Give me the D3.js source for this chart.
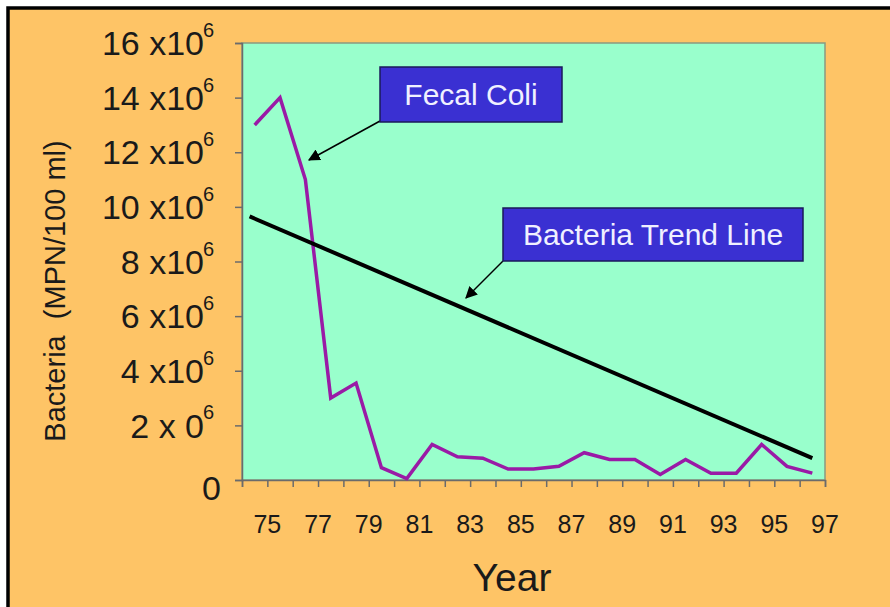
<!DOCTYPE html>
<html>
<head>
<meta charset="utf-8">
<script src="https://cdn.jsdelivr.net/npm/d3@7"></script>
<style>
  body { margin: 0; background: #fff; }
  svg { display: block; font-family: "Liberation Sans", Arial, sans-serif; }
</style>
</head>
<body>
<svg width="890" height="607"></svg>
<script>
// years 1975..1997, fecal coliform in MPN/100 ml (millions)
const years = d3.range(75, 98);
const fecalColi = [13.0, 14.0, 11.0, 3.0, 3.55, 0.45, 0.05, 1.3, 0.85, 0.8, 0.4, 0.4, 0.5,
  1.0, 0.75, 0.75, 0.2, 0.75, 0.25, 0.25, 1.3, 0.5, 0.25];
const trendStart = 9.65;
const trendEnd = 0.8;
const yTicks = [0, 2, 4, 6, 8, 10, 12, 14, 16];
const yTickText = ['0', '2 x 0', '4 x10', '6 x10', '8 x10', '10 x10', '12 x10', '14 x10', '16 x10'];
const xLabelYears = [75, 77, 79, 81, 83, 85, 87, 89, 91, 93, 95, 97];

const svg = d3.select('svg');

// frame
svg.append('rect').attr('x', 8).attr('y', 8).attr('width', 900).attr('height', 620)
  .attr('fill', '#fec466').attr('stroke', '#000').attr('stroke-width', 3.5);

const x = d3.scaleLinear().domain([74.5, 97.5]).range([242, 825]);
const y = d3.scaleLinear().domain([0, 16]).range([480, 43]);

svg.append('rect')
  .attr('x', x(74.5)).attr('y', y(16))
  .attr('width', x(97.5) - x(74.5)).attr('height', y(0) - y(16))
  .attr('fill', '#99ffcc').attr('stroke', '#8a9a80').attr('stroke-width', 1.5);

// y axis
const yAxis = svg.append('g')
  .attr('transform', `translate(${x(74.5)},0)`)
  .call(d3.axisLeft(y).tickValues(yTicks).tickSize(7).tickFormat(''));
yAxis.select('.domain').attr('stroke', '#6b6b6b').attr('stroke-width', 1.5);
yAxis.selectAll('.tick line').attr('stroke', '#6b6b6b').attr('stroke-width', 1.5);

const yLab = svg.append('g');
yTicks.forEach((v, i) => {
  yLab.append('text')
    .attr('x', i === 0 ? 221 : 204)
    .attr('y', y(v) + (i === 0 ? 8 : 0))
    .attr('dy', '0.36em')
    .attr('text-anchor', 'end')
    .attr('font-size', 34)
    .attr('fill', '#1a1a1a')
    .text(yTickText[i]);
  if (i > 0) {
    yLab.append('text')
      .attr('x', 203).attr('y', y(v) - 6)
      .attr('font-size', 20).attr('fill', '#1a1a1a')
      .text('6');
  }
});

// x axis
const xAxis = svg.append('g')
  .attr('transform', `translate(0,${y(0)})`)
  .call(d3.axisBottom(x).tickValues(d3.range(74.5, 98, 1)).tickSize(7).tickFormat(''));
xAxis.select('.domain').attr('stroke', '#6b6b6b').attr('stroke-width', 1.5);
xAxis.selectAll('.tick line').attr('stroke', '#6b6b6b').attr('stroke-width', 1.5);

svg.append('g').selectAll('text')
  .data(xLabelYears)
  .join('text')
  .attr('x', (d) => x(d + 0.5))
  .attr('y', 533)
  .attr('text-anchor', 'middle')
  .attr('font-size', 25)
  .attr('fill', '#1a1a1a')
  .text((d) => d);

// axis titles
svg.append('text')
  .attr('transform', 'translate(65,291) rotate(-90)')
  .attr('text-anchor', 'middle')
  .attr('font-size', 29)
  .attr('fill', '#1a1a1a')
  .attr('xml:space', 'preserve')
  .text('Bacteria  (MPN/100 ml)');

svg.append('text')
  .attr('x', 512).attr('y', 591)
  .attr('text-anchor', 'middle')
  .attr('font-size', 39)
  .attr('fill', '#1a1a1a')
  .text('Year');

// lines
const line = d3.line().x((d) => x(d[0])).y((d) => y(d[1]));

svg.append('path')
  .datum(years.map((yr, i) => [yr, fecalColi[i]]))
  .attr('d', line)
  .attr('fill', 'none')
  .attr('stroke', '#9a1aa6')
  .attr('stroke-width', 3.5)
  .attr('stroke-linejoin', 'miter');

svg.append('path')
  .datum([[74.8, trendStart], [97, trendEnd]])
  .attr('d', line)
  .attr('fill', 'none')
  .attr('stroke', '#000')
  .attr('stroke-width', 4);

// annotations
svg.append('defs').append('marker')
  .attr('id', 'arrow')
  .attr('viewBox', '0 0 10 10')
  .attr('refX', 9).attr('refY', 5)
  .attr('markerWidth', 12).attr('markerHeight', 12)
  .attr('markerUnits', 'userSpaceOnUse')
  .attr('orient', 'auto')
  .append('path').attr('d', 'M0,0L10,5L0,10Z').attr('fill', '#000');

const notes = [
  { label: 'Fecal Coli', x0: 380, y0: 67, w: 182, h: 55, ax: 380, ay: 121, tx: 309, ty: 160 },
  { label: 'Bacteria Trend Line', x0: 503, y0: 208, w: 300, h: 53, ax: 503, ay: 261, tx: 466, ty: 298 },
];

notes.forEach((n) => {
  svg.append('line')
    .attr('x1', n.ax).attr('y1', n.ay).attr('x2', n.tx).attr('y2', n.ty)
    .attr('stroke', '#000').attr('stroke-width', 1.5)
    .attr('marker-end', 'url(#arrow)');
  svg.append('rect')
    .attr('x', n.x0).attr('y', n.y0).attr('width', n.w).attr('height', n.h)
    .attr('fill', '#3a30d2').attr('stroke', '#1a1a5a').attr('stroke-width', 1.5);
  svg.append('text')
    .attr('x', n.x0 + n.w / 2).attr('y', n.y0 + n.h / 2)
    .attr('dy', '0.36em')
    .attr('text-anchor', 'middle')
    .attr('font-size', 30)
    .attr('fill', '#f0f0ff')
    .text(n.label);
});
</script>
</body>
</html>
